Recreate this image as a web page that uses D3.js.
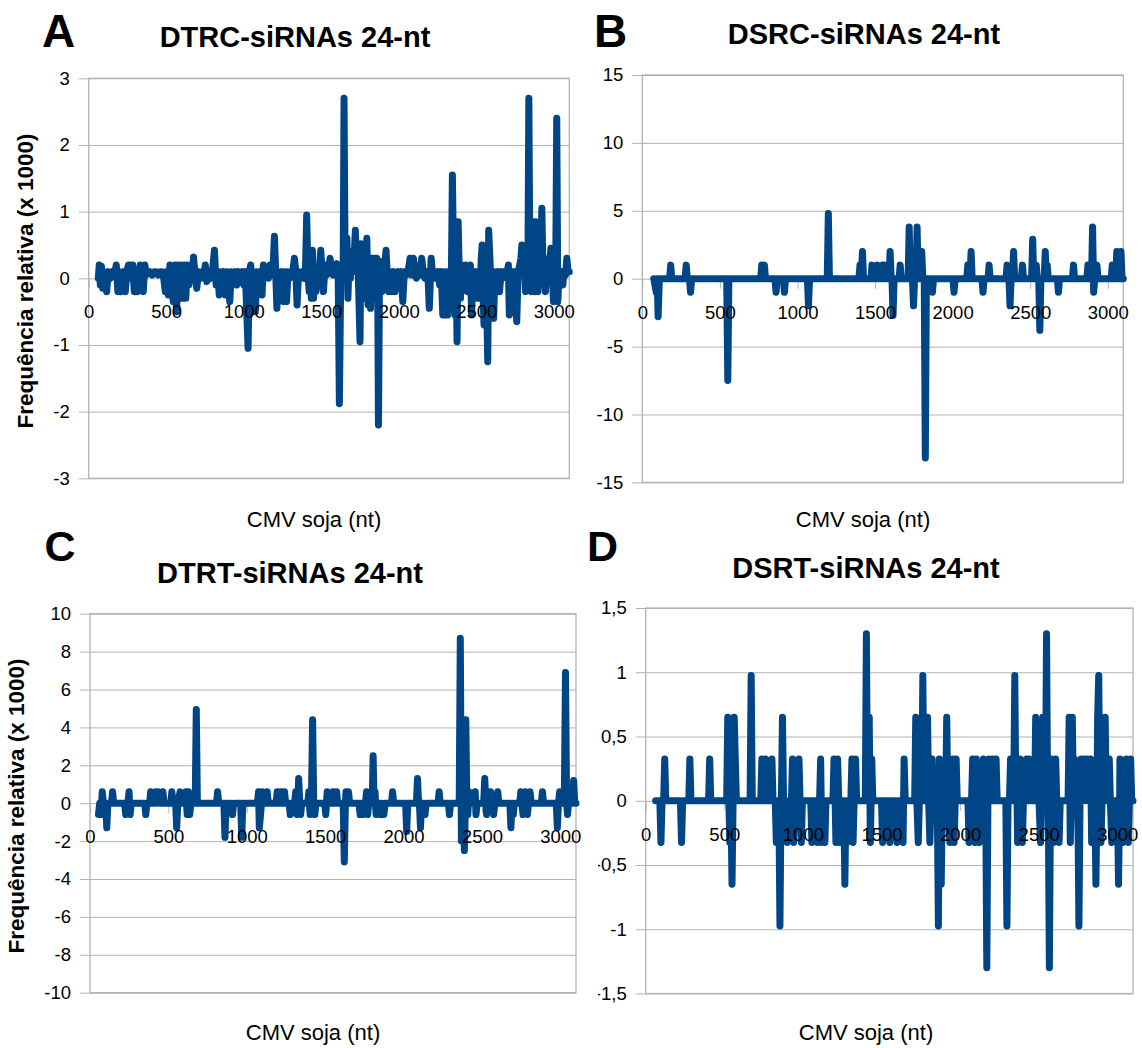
<!DOCTYPE html>
<html>
<head>
<meta charset="utf-8">
<script src="https://cdn.jsdelivr.net/npm/d3@7"></script>
<style>
  body { margin: 0; background: #fff; }
  svg { display: block; font-family: "Liberation Sans", Arial, sans-serif; }
</style>
</head>
<body>
<svg id="chart" width="1142" height="1048"></svg>
<script>
'use strict';

// tick labels
const xTicks = [0, 500, 1000, 1500, 2000, 2500, 3000];
const yTicksA = [-3, -2, -1, 0, 1, 2, 3];
const yTicksB = [-15, -10, -5, 0, 5, 10, 15];
const yTicksC = [-10, -8, -6, -4, -2, 0, 2, 4, 6, 8, 10];
const yTicksD = [-1.5, -1, -0.5, 0, 0.5, 1, 1.5];

const letters = ['A', 'B', 'C', 'D'];
const titles = ['DTRC-siRNAs 24-nt', 'DSRC-siRNAs 24-nt', 'DTRT-siRNAs 24-nt', 'DSRT-siRNAs 24-nt'];
const yTitle = 'Frequência relativa (x 1000)';
const xTitle = 'CMV soja (nt)';

// [position (nt), relative frequency (x 1000)]
const seriesA = [
  [62,0],[68,0.2],[75,-0.1],[82,0.18],[90,-0.15],[98,0.1],[108,0.05],[116,-0.2],[126,0.1],[140,0],[152,0.1],[165,0.05],
  [178,0.2],[188,-0.2],[198,0.1],[206,-0.2],[216,0.05],[226,0.1],[236,-0.2],[246,0.1],[256,0.2],[266,0],[274,0.2],[284,0.2],
  [294,-0.2],[304,0.1],[314,-0.2],[324,0.05],[332,0.2],[342,0],[352,-0.2],[362,0.2],[372,0.05],[385,0.1],[398,0.1],[410,0.05],
  [422,0.1],[435,0.1],[448,0.05],[460,0.1],[472,0.1],[484,0],[494,-0.2],[504,0.1],[514,-0.25],[524,0.2],[534,-0.1],[546,-0.35],
  [556,0.2],[567,-0.5],[576,0.2],[586,-0.3],[596,0.2],[606,-0.3],[616,0.2],[626,-0.3],[636,0.2],[646,-0.1],[656,0.1],[666,0],
  [676,0.32],[686,0.05],[697,-0.15],[708,0.1],[720,0],[732,0.1],[742,0],[752,0.2],[762,-0.05],[774,0.1],[786,0],[798,0.1],
  [811,0.42],[822,-0.1],[832,0.1],[842,-0.25],[852,0.1],[862,-0.2],[872,0.1],[882,-0.25],[892,0.1],[902,-0.1],[910,-0.35],
  [920,0.1],[932,0],[944,0.1],[955,-0.1],[966,0.1],[978,0],[990,0.1],[1000,-0.1],[1010,0.1],[1020,-0.55],[1028,-1.05],
  [1036,0.1],[1045,0.2],[1055,-0.4],[1065,0.1],[1075,-0.5],[1085,0.1],[1095,0],[1105,0.1],[1118,-0.25],[1127,0.2],[1138,0],
  [1150,0.1],[1160,0],[1170,0.2],[1180,0.05],[1190,0.2],[1198,0.63],[1206,0.1],[1214,-0.45],[1224,0.1],[1235,0.05],[1245,0.1],
  [1256,-0.35],[1266,0.1],[1276,-0.35],[1286,0.1],[1296,0],[1306,0.1],[1316,0.1],[1327,0.3],[1336,0.1],[1344,-0.4],[1354,0.1],
  [1366,0],[1378,0.1],[1390,0],[1398,0.1],[1406,0.95],[1414,0.1],[1422,-0.2],[1430,0.1],[1436,-0.3],[1443,0.42],[1450,-0.3],
  [1458,0.1],[1466,-0.2],[1474,0.1],[1482,0],[1490,0.2],[1497,0.42],[1505,0.1],[1514,-0.2],[1525,0.2],[1535,0.05],[1545,0.1],
  [1557,0.3],[1566,0.1],[1576,0.05],[1588,0.1],[1600,0.22],[1609,0.1],[1617,-1.88],[1626,0.1],[1634,0.2],[1641,0],[1647,2.7],
  [1654,0.1],[1660,0.3],[1666,0.6],[1672,-0.3],[1680,0.3],[1688,0],[1696,0.4],[1704,0.1],[1712,0.3],[1720,0.72],[1728,0.1],
  [1736,0.3],[1744,-0.4],[1750,-0.95],[1756,0.52],[1764,0.1],[1772,0.3],[1780,-0.3],[1788,0.3],[1794,0.6],[1802,-0.4],
  [1810,0.25],[1818,-0.45],[1826,0.3],[1834,-0.3],[1842,0.3],[1850,-0.2],[1858,0.3],[1864,0],[1869,-2.2],[1876,0.1],
  [1884,0.25],[1892,-0.2],[1900,0.1],[1910,0.2],[1918,0.42],[1926,0.05],[1936,-0.2],[1946,0.1],[1956,-0.2],[1966,0.1],
  [1976,-0.2],[1986,0.05],[1996,0.1],[2006,-0.1],[2016,0.1],[2026,-0.35],[2036,0.1],[2048,0.05],[2060,0.1],[2073,0.3],
  [2082,0.05],[2095,0.3],[2104,0.1],[2114,0],[2124,0.1],[2136,0.05],[2148,0.3],[2158,0.1],[2168,0],[2178,0.1],[2188,0.05],
  [2197,-0.45],[2209,0.3],[2218,0.05],[2228,0.1],[2240,0],[2252,0.1],[2264,-0.1],[2274,0.1],[2284,-0.55],[2292,0.1],
  [2300,-0.55],[2308,0.1],[2316,-0.55],[2324,0.1],[2332,-0.3],[2340,0.2],[2346,1.55],[2354,0.1],[2362,-0.55],[2370,0.2],
  [2376,-0.95],[2383,0.85],[2390,0.1],[2398,-0.3],[2406,0.2],[2414,0],[2422,0.1],[2432,0.2],[2442,-0.2],[2452,0.1],
  [2462,0.2],[2470,-0.55],[2478,0.1],[2488,0.05],[2498,0.1],[2508,-0.3],[2516,0.1],[2524,-0.3],[2532,0.3],[2538,0.5],
  [2544,-0.3],[2550,-0.7],[2556,0.3],[2562,0.3],[2568,-0.5],[2574,-1.25],[2580,0.72],[2588,0.3],[2596,-0.3],[2604,0.1],
  [2612,-0.6],[2620,0.1],[2630,0],[2640,0.1],[2650,-0.2],[2660,0.1],[2670,0],[2680,0.1],[2690,0.05],[2700,0.1],[2707,0.2],
  [2713,-0.55],[2720,0.1],[2730,0.05],[2740,0.1],[2752,-0.3],[2761,-0.65],[2770,0.1],[2780,0.2],[2788,0.3],[2794,0.5],
  [2802,0.1],[2810,0.3],[2818,-0.2],[2826,0.2],[2833,0.1],[2839,2.7],[2846,0.1],[2854,-0.2],[2862,0.3],[2870,0.85],
  [2878,-0.2],[2884,0.85],[2890,0.1],[2898,-0.2],[2906,0.3],[2914,0.1],[2923,1.05],[2930,0.1],[2938,0.3],[2946,-0.2],
  [2954,0.1],[2962,0],[2970,0.1],[2981,0.45],[2990,0.1],[2998,-0.35],[3006,0.1],[3012,0],[3019,2.4],[3026,-0.35],[3034,0.1],
  [3042,0],[3050,0.1],[3058,-0.1],[3066,0.1],[3076,0.05],[3084,0.3],[3092,0.1],[3100,0.1]
];

const seriesB = [
  [74,0],[90,-1],[96,0],[102,-2.8],[110,0],[176,0],[183,1],[190,0],[276,0],[283,1],[290,0],[304,0],[311,-1],[318,0],
  [544,0],[551,-7.5],[558,0],[763,0],[770,1],[780,0],[787,1],[794,0],[855,0],[862,-1],[869,0],[909,0],[916,-1],[923,0],
  [1064,0],[1071,-2],[1078,0],[1192,0],[1199,4.8],[1206,0],[1396,0],[1403,1],[1411,0],[1419,2],[1426,0],[1474,0],[1480,1],
  [1487,0],[1508,0],[1515,1],[1522,0],[1543,0],[1550,1],[1556,0],[1562,1],[1568,0],[1590,0],[1597,2],[1604,0],[1609,0],
  [1616,-2.7],[1623,0],[1655,0],[1662,1],[1669,0],[1713,0],[1720,3.8],[1727,0],[1741,0],[1748,-2],[1755,0],[1764,0],
  [1771,3.8],[1778,0],[1794,0],[1801,2],[1808,0],[1817,0],[1824,-13.2],[1831,0],[1863,0],[1870,-1],[1877,0],[2002,0],
  [2009,-1],[2016,0],[2091,0],[2098,1],[2105,0],[2112,0],[2119,2],[2126,0],[2189,0],[2196,-1],[2203,0],[2228,0],[2235,1],
  [2242,0],[2344,0],[2351,1],[2358,0],[2363,0],[2370,-2],[2377,0],[2386,0],[2393,2],[2400,0],[2443,0],[2450,1],[2457,0],
  [2509,0],[2516,2.9],[2523,0],[2532,0],[2539,1],[2546,0],[2555,0],[2562,-3.8],[2569,0],[2590,0],[2597,2],[2604,0],
  [2610,1],[2616,0],[2675,0],[2682,-1],[2689,0],[2772,0],[2779,1],[2786,0],[2865,0],[2872,1],[2879,0],[2895,0],[2902,3.8],
  [2909,-1],[2916,0],[2923,0],[2930,1],[2937,0],[3022,0],[3029,1],[3036,0],[3044,1],[3051,0],[3058,2],[3065,0],[3078,0],
  [3085,2],[3092,0],[3100,0]
];

const seriesC = [
  [54,-0.6],[62,0],[70,-0.6],[78,0.6],[86,0],[100,0],[107,-1.3],[114,0],[137,0],[144,0.6],[151,0],[221,0],[228,-0.6],
  [235,0],[242,0],[249,0.6],[256,-0.6],[263,0],[349,0],[356,-0.6],[363,0],[380,0],[387,0.6],[394,0],[411,0],[418,0.6],
  [425,0],[436,0.6],[444,0],[458,0],[465,0.6],[472,0],[515,0],[522,0.6],[530,0],[546,0],[553,-1.3],[560,0],[575,0.6],
  [584,0],[605,0],[612,0.6],[620,-0.6],[628,0.6],[636,-0.6],[644,0],[671,0],[678,4.95],[685,0],[807,0],[814,0.6],[821,0],
  [854,0],[861,-1.8],[868,0],[902,0],[909,-0.6],[916,0],[961,0],[968,-1.8],[975,0],[1068,0],[1075,0.6],[1080,-1.3],
  [1088,-0.6],[1094,0],[1099,0.6],[1106,0],[1123,0],[1130,0.6],[1137,0],[1187,0],[1194,0.6],[1201,0],[1211,0],[1218,0.6],
  [1225,0],[1234,0],[1241,0.6],[1248,0],[1270,0],[1277,-0.6],[1284,0],[1305,0],[1312,0.6],[1320,-0.6],[1326,0],[1331,1.3],
  [1338,0],[1344,-0.6],[1350,0],[1389,0],[1396,0.6],[1404,-0.6],[1412,0],[1420,4.4],[1427,0],[1434,-0.6],[1441,0],
  [1497,0],[1504,-0.6],[1513,0.6],[1520,0],[1543,0],[1550,0.6],[1557,0],[1566,0],[1573,0.6],[1580,0],[1615,0],[1622,-3.1],
  [1629,0],[1633,0.6],[1640,0],[1649,0.6],[1656,0],[1716,0],[1723,-0.6],[1730,0],[1745,-0.6],[1752,0],[1757,0],[1764,0.6],
  [1771,-0.6],[1778,0],[1800,0],[1806,2.5],[1812,0],[1818,0.6],[1825,-0.6],[1832,0],[1848,0],[1855,-0.6],[1862,0],
  [1875,-0.6],[1882,0],[1923,0],[1930,0.6],[1937,0],[2013,0],[2020,-1.5],[2027,0],[2082,0],[2089,1.3],[2096,0],[2101,0],
  [2108,-1.3],[2115,0],[2130,0],[2137,-0.6],[2144,0],[2220,0],[2227,0.6],[2234,0],[2286,0],[2293,-0.6],[2300,0],[2355,0],
  [2362,8.7],[2369,-2],[2376,0],[2381,0],[2388,-2.5],[2395,0],[2397,4.4],[2404,0],[2410,-0.6],[2416,0.6],[2423,0],
  [2450,0],[2457,0.6],[2462,-0.6],[2470,0],[2511,0],[2518,1.3],[2525,0],[2530,-0.6],[2537,0],[2548,0],[2555,0.6],[2562,0],
  [2575,-0.6],[2582,0],[2594,0],[2601,0.6],[2608,0],[2678,0],[2685,-1.3],[2692,0],[2700,-0.6],[2707,0],[2741,0],
  [2748,0.6],[2755,0],[2762,-0.6],[2770,0],[2777,0.6],[2784,0],[2790,-0.6],[2797,0],[2807,0.6],[2814,0],[2879,0],
  [2886,0.6],[2893,0],[2974,0],[2981,-1.3],[2988,0],[2996,0.6],[3003,0],[3020,0],[3026,0.6],[3033,6.9],[3040,0],
  [3046,-0.6],[3052,0],[3060,0.6],[3068,0],[3078,0],[3085,1.2],[3092,0],[3100,0]
];

const seriesD = [
  [63,0],[90,0],[97,-0.325],[104,0],[114,0],[121,0.325],[128,0],[221,0],[228,-0.325],[235,0],[274,0],[281,0.325],[288,0],
  [400,0],[407,0.325],[414,0],[515,0],[522,0.65],[529,0],[535,-0.325],[542,0],[549,-0.65],[556,0],[563,0.65],[570,0.325],
  [577,0],[664,0],[671,0.975],[678,0],[732,0],[739,0.325],[746,0],[755,0],[762,0.325],[769,0],[796,0],[803,0.325],[810,0],
  [824,0],[831,-0.325],[838,0],[847,0],[854,-0.975],[861,0],[863,0],[870,0.65],[877,0],[893,0],[900,-0.325],[907,0],
  [927,0],[934,0.325],[941,-0.325],[948,0],[968,0],[975,0.325],[982,0],[990,-0.325],[997,0],[1050,0],[1057,-0.325],
  [1064,0],[1085,0],[1092,-0.325],[1099,0],[1106,0],[1113,0.325],[1120,-0.325],[1127,0],[1140,-0.325],[1147,0],[1191,0],
  [1198,0.325],[1205,0],[1210,-0.325],[1215,0],[1221,0.325],[1228,0],[1236,-0.325],[1243,0],[1260,0],[1267,-0.65],
  [1274,0],[1280,-0.325],[1287,0],[1305,0],[1312,0.325],[1319,-0.325],[1326,0],[1335,0.325],[1342,0],[1397,0],[1404,1.3],
  [1411,0],[1415,0],[1422,0.65],[1429,-0.325],[1434,0],[1438,0.325],[1445,0],[1500,0],[1507,-0.325],[1514,0],[1546,0],
  [1553,-0.325],[1560,0],[1592,0],[1599,-0.325],[1606,0],[1630,0],[1637,-0.325],[1644,0.325],[1651,0],[1711,0],
  [1718,0.65],[1725,0],[1734,-0.325],[1741,0],[1756,0],[1763,0.975],[1770,0],[1786,0],[1793,0.65],[1800,0],[1808,-0.325],
  [1815,0],[1822,0.325],[1829,0],[1855,0],[1862,-0.975],[1868,0.325],[1874,0],[1880,-0.65],[1887,0],[1908,0],[1915,0.65],
  [1922,0],[1935,-0.325],[1942,0],[1955,0.325],[1962,-0.325],[1969,0],[1975,0.325],[1982,0],[2050,0],[2057,-0.325],
  [2064,0],[2073,0],[2080,0.325],[2087,0],[2096,-0.325],[2103,0.325],[2110,0],[2122,-0.325],[2129,0],[2141,0],
  [2148,0.325],[2155,0],[2163,0],[2170,-1.3],[2177,0],[2183,0.325],[2190,0],[2199,0],[2206,0.325],[2213,0],[2222,0],
  [2229,0.325],[2236,0],[2291,0],[2298,-0.975],[2305,0],[2314,0],[2321,0.325],[2328,0],[2341,0],[2348,0.975],[2355,0],
  [2359,0.325],[2366,-0.325],[2373,0],[2382,0.325],[2389,0],[2396,-0.325],[2403,0],[2416,0],[2423,0.325],[2430,0],
  [2439,0.325],[2446,0],[2474,0],[2481,0.65],[2488,0],[2495,0.325],[2502,0],[2512,-0.325],[2519,0],[2526,0.65],[2533,0],
  [2543,0],[2550,1.3],[2557,0],[2561,0],[2568,-1.3],[2575,0],[2580,0.325],[2587,0],[2594,-0.325],[2601,0],[2608,0.325],
  [2615,0],[2630,-0.325],[2637,0],[2687,0],[2694,0.65],[2701,-0.325],[2708,0],[2714,0.65],[2721,0],[2727,0.325],[2734,0],
  [2749,0],[2756,-0.975],[2763,0],[2770,0.325],[2777,0],[2790,0.325],[2797,0],[2810,0.325],[2817,0],[2830,0.325],
  [2837,-0.325],[2844,0],[2857,0],[2864,-0.65],[2871,0],[2875,0.65],[2882,0.975],[2889,0],[2896,-0.325],[2903,0],[2916,0],
  [2923,0.65],[2930,0],[2942,0],[2949,0.325],[2956,0],[2965,-0.325],[2972,0],[3001,0],[3008,-0.65],[3015,0],[3017,0.325],
  [3024,0],[3036,-0.325],[3043,0],[3051,0],[3058,0.325],[3065,0],[3070,-0.325],[3077,0],[3085,0.325],[3092,0],[3100,0]
];

const lineColor = '#004586';
const gridColor = '#b3b3b3';
const fontStack = '"Liberation Sans", Arial, sans-serif';

const svg = d3.select('#chart');
svg.append('rect').attr('width', 1142).attr('height', 1048).attr('fill', '#fff');

// panel D is partly covered on its left side in the original figure
svg.append('defs').append('clipPath').attr('id', 'clip-d')
  .append('rect').attr('x', 598).attr('y', 520).attr('width', 560).attr('height', 528);

const intFmt = d => String(d);
const commaFmt = d => String(d).replace('.', ',');

const panels = [
  {data: seriesA, ticks: yTicksA, fmt: intFmt, left: 88.7, right: 569.3, top: 78.3, bottom: 478.3,
   letter: {x: 42, y: 46.7, size: 46}, title: {x: 295, y: 46.7}, xTitle: {x: 314, y: 527}, yTitle: {x: 33, y: 281}},
  {data: seriesB, ticks: yTicksB, fmt: intFmt, left: 642.3, right: 1123.3, top: 75, bottom: 482.4,
   letter: {x: 594, y: 46.7, size: 46}, title: {x: 864, y: 43.5}, xTitle: {x: 863, y: 527}},
  {data: seriesC, ticks: yTicksC, fmt: intFmt, left: 90, right: 576, top: 613.7, bottom: 992.7,
   letter: {x: 44.5, y: 561, size: 43}, title: {x: 290, y: 582.5}, xTitle: {x: 313, y: 1040}, yTitle: {x: 24, y: 806}},
  {data: seriesD, ticks: yTicksD, fmt: commaFmt, left: 645.7, right: 1133, top: 608, bottom: 993.5, clip: 'clip-d',
   letter: {x: 587, y: 560.5, size: 43}, title: {x: 866, y: 578}, xTitle: {x: 866, y: 1040}}
];

function styleAxis(sel) {
  sel.attr('font-family', fontStack).attr('font-size', 18.5);
  sel.selectAll('.domain').remove();
  sel.selectAll('line').attr('stroke', gridColor);
  sel.selectAll('text').attr('fill', '#000');
}

function renderPanel(p, i) {
  const x = d3.scaleLinear().domain([0, 3100]).range([p.left, p.right]);
  const y = d3.scaleLinear().domain([p.ticks[0], p.ticks[p.ticks.length - 1]]).range([p.bottom, p.top]);
  const w = p.right - p.left;

  const g = svg.append('g');
  if (p.clip) g.attr('clip-path', `url(#${p.clip})`);

  // horizontal grid lines
  g.append('g')
    .attr('transform', `translate(${p.left},0)`)
    .call(d3.axisLeft(y).tickValues(p.ticks).tickSize(-w).tickFormat(''))
    .call(styleAxis);

  // plot frame
  g.append('rect')
    .attr('x', p.left).attr('y', p.top)
    .attr('width', w).attr('height', p.bottom - p.top)
    .attr('fill', 'none').attr('stroke', gridColor).attr('stroke-width', 1.3);

  // y axis ticks + labels
  g.append('g')
    .attr('transform', `translate(${p.left},0)`)
    .call(d3.axisLeft(y).tickValues(p.ticks).tickSize(10).tickPadding(9).tickFormat(p.fmt))
    .call(styleAxis);

  // x axis tick marks on the zero line
  g.append('g')
    .attr('transform', `translate(0,${y(0)})`)
    .call(d3.axisBottom(x).tickValues(xTicks).tickSize(10).tickFormat(''))
    .call(styleAxis);

  // data line
  const line = d3.line().x(d => x(d[0])).y(d => y(d[1]));
  g.append('path')
    .datum(p.data)
    .attr('d', line)
    .attr('fill', 'none')
    .attr('stroke', lineColor)
    .attr('stroke-width', 7)
    .attr('stroke-linejoin', 'round')
    .attr('stroke-linecap', 'round');

  // x tick labels drawn over the line
  g.append('g')
    .attr('transform', `translate(0,${y(0)})`)
    .call(d3.axisBottom(x).tickValues(xTicks).tickSize(0).tickPadding(27).tickFormat(intFmt))
    .call(styleAxis)
    .call(a => a.selectAll('line').remove());

  // panel letter
  svg.append('text')
    .attr('x', p.letter.x).attr('y', p.letter.y)
    .attr('font-size', p.letter.size).attr('font-weight', 'bold')
    .text(letters[i]);

  // title
  svg.append('text')
    .attr('x', p.title.x).attr('y', p.title.y)
    .attr('text-anchor', 'middle')
    .attr('font-size', 29).attr('font-weight', 'bold')
    .text(titles[i]);

  // x title
  svg.append('text')
    .attr('x', p.xTitle.x).attr('y', p.xTitle.y)
    .attr('text-anchor', 'middle')
    .attr('font-size', 22)
    .text(xTitle);

  // y title (left panels only)
  if (p.yTitle) {
    svg.append('text')
      .attr('transform', `translate(${p.yTitle.x},${p.yTitle.y}) rotate(-90)`)
      .attr('text-anchor', 'middle')
      .attr('font-size', 22.5).attr('font-weight', 'bold')
      .text(yTitle);
  }
}

panels.forEach(renderPanel);
</script>
</body>
</html>
